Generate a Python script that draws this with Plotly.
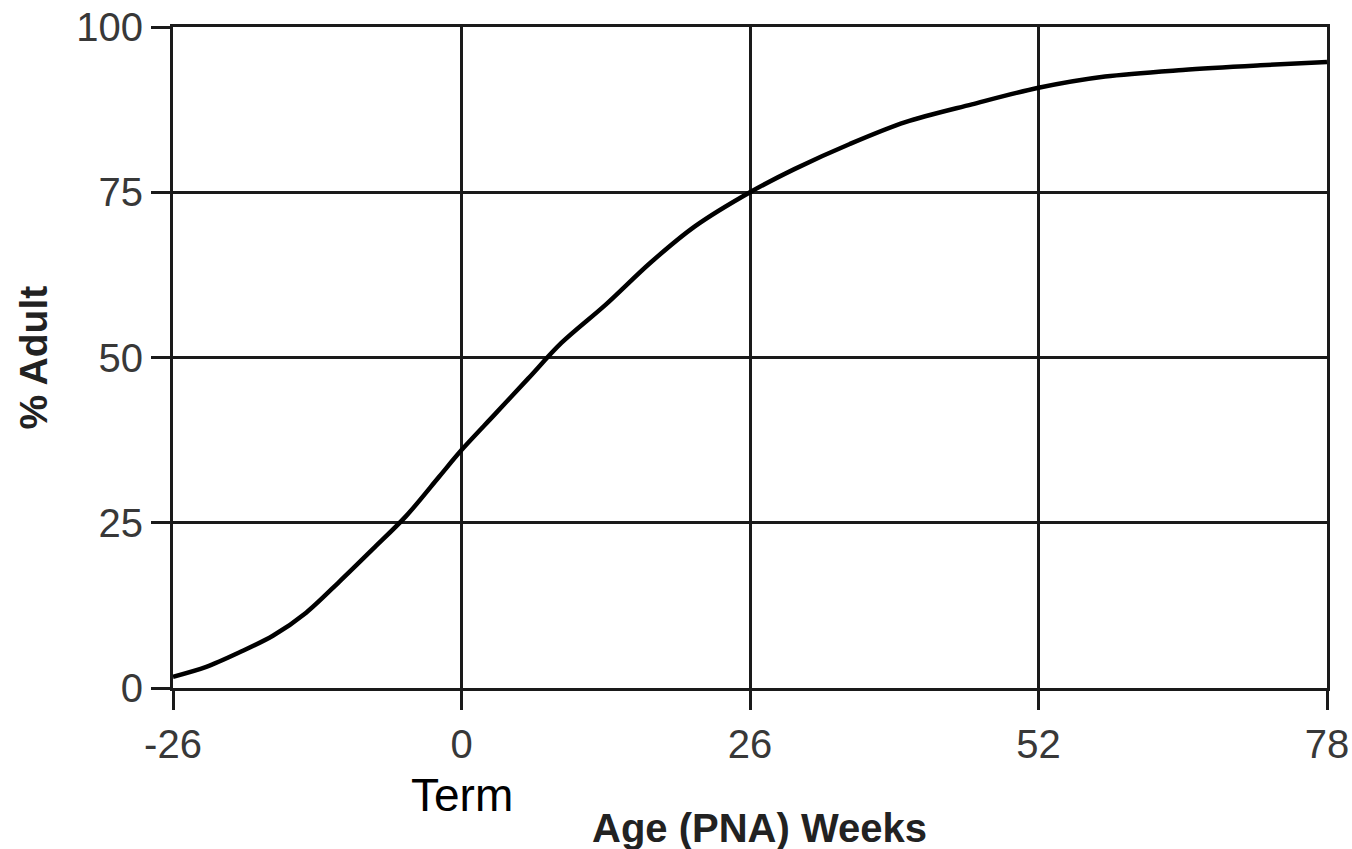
import plotly.graph_objects as go

weeks = [-26, -23, -20, -17, -14, -11, -8, -5, -2, 0, 3, 6, 9, 13, 17, 21, 26, 30, 35, 40, 46, 52, 58, 65, 72, 78]
pct_adult = [1.7, 3.2, 5.4, 7.9, 11.4, 16.1, 21.0, 26.0, 32.0, 36.0, 41.4, 46.8, 52.2, 58.0, 64.3, 69.8, 75.0, 78.5, 82.3, 85.6, 88.3, 90.8, 92.5, 93.5, 94.2, 94.7]
x_ticks = [-26, 0, 26, 52, 78]
y_ticks = [0, 25, 50, 75, 100]

GRID = "#1a1a1a"
FONT = "Liberation Sans, Arial"
fig = go.Figure()
fig.add_trace(go.Scatter(x=weeks, y=pct_adult, mode="lines",
                         line=dict(color="black", width=4.5, shape="spline", smoothing=0.9),
                         showlegend=False, hoverinfo="skip"))

axis_common = dict(showgrid=True, gridcolor=GRID, gridwidth=3, zeroline=False,
                   showline=True, linecolor=GRID, linewidth=3, mirror=True,
                   ticks="outside", ticklen=19, tickwidth=3, tickcolor=GRID,
                   automargin=False,
                   tickfont=dict(family=FONT, size=40, color="#383838"))

fig.update_xaxes(range=[-26, 78], tickvals=x_ticks, ticktext=[str(v) for v in x_ticks],
                 ticklabelstandoff=0, **axis_common)
fig.update_yaxes(range=[0, 100], tickvals=y_ticks, ticktext=[str(v) for v in y_ticks],
                 ticklabelstandoff=0, **axis_common)

fig.add_annotation(text="Term", x=0, xref="x", y=0, yref="paper", yanchor="middle",
                   yshift=-107, showarrow=False,
                   font=dict(family=FONT, size=46, color="black"))
fig.add_annotation(text="<b>Age (PNA) Weeks</b>", x=(759 - 173) / 1154, xref="paper",
                   y=0, yref="paper", yanchor="middle", yshift=-140, showarrow=False,
                   font=dict(family=FONT, size=40, color="#222222"))
fig.add_annotation(text="<b>% Adult</b>", x=0, xref="paper", xanchor="center",
                   xshift=-140, y=0.5, yref="paper", yanchor="middle", textangle=-90,
                   showarrow=False,
                   font=dict(family=FONT, size=39, color="#222222"))

fig.update_layout(width=1352, height=849, autosize=False,
                  margin=dict(l=173, r=25, t=27, b=161),
                  plot_bgcolor="white", paper_bgcolor="white")

fig.write_html("out.html", config={"displayModeBar": False},
               post_script="document.body.style.margin='0';document.body.style.overflow='hidden';")
